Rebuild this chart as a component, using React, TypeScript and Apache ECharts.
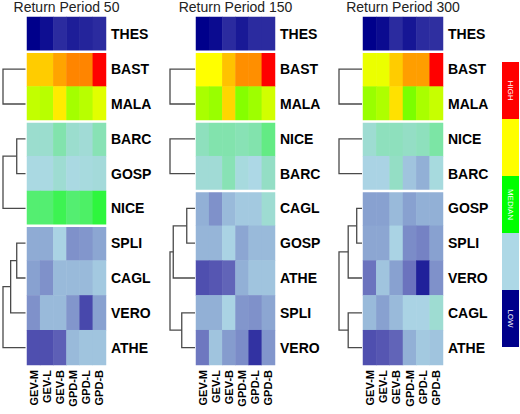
import React, { useEffect, useRef } from "react";
import * as echarts from "echarts";

const COLS = ["GEV-M", "GEV-L", "GEV-B", "GPD-M", "GPD-L", "GPD-B"];
const TITLES = ["Return Period 50", "Return Period 150", "Return Period 300"];

const ROWS_50 = ["THES", "BAST", "MALA", "BARC", "GOSP", "NICE", "SPLI", "CAGL", "VERO", "ATHE"];
const VALUES_50 = [
  [0, 2, 6, 4, 5, 6],
  [80, 80, 84, 87, 87, 100],
  [69, 68, 77, 66, 68, 72],
  [28, 28, 32, 28, 27, 31],
  [25.5, 25.5, 27.5, 25.5, 26, 26.5],
  [39, 39, 42, 39, 40, 44],
  [20.5, 20.5, 24.5, 18, 18.5, 20],
  [19.5, 18, 22, 22, 22, 23.5],
  [18, 22, 22, 18.5, 10, 19.5],
  [11, 11, 13, 22, 23, 23],
];
const GAPS_50 = [0, 2, 5];
// merges: [childA, childB, height]; a child is a row name or the index of an earlier merge
const TREE_50: [string | number, string | number, number][] = [
  ["BAST", "MALA", 1],
  ["BARC", "GOSP", 0.39],
  [1, "NICE", 1],
  ["SPLI", "CAGL", 0.39],
  [3, "VERO", 0.66],
  [4, "ATHE", 1],
];

const ROWS_150 = ["THES", "BAST", "MALA", "NICE", "BARC", "CAGL", "GOSP", "ATHE", "SPLI", "VERO"];
const VALUES_150 = [
  [0, 1.5, 6, 3.5, 6, 6],
  [75, 75, 81, 86, 86, 100],
  [66.5, 65, 79, 63, 65.5, 70.5],
  [30, 32, 32, 31, 32, 37],
  [27, 27, 31, 26, 25, 29],
  [21, 18, 22, 23.5, 23.5, 27.5],
  [21.5, 21.5, 24.5, 20, 22, 22],
  [11, 12, 13.5, 21, 23, 23],
  [21, 21, 24.5, 18.5, 18, 20],
  [15.5, 23, 19, 17.5, 7, 18.5],
];
const GAPS_150 = [0, 2, 4];
const TREE_150: [string | number, string | number, number][] = [
  ["BAST", "MALA", 1],
  ["NICE", "BARC", 1],
  ["CAGL", "GOSP", 0.33],
  [2, "ATHE", 0.87],
  ["SPLI", "VERO", 0.53],
  [3, 4, 1],
];

const ROWS_300 = ["THES", "BAST", "MALA", "NICE", "BARC", "GOSP", "SPLI", "VERO", "CAGL", "ATHE"];
const VALUES_300 = [
  [0, 1.5, 6, 3, 6, 6.5],
  [73, 73, 80, 84.5, 84.5, 100],
  [65, 67, 78, 62, 66.5, 69.5],
  [27.5, 30, 30, 29, 30, 33],
  [24.5, 24.5, 29, 23, 21, 26],
  [19.5, 19.5, 22, 19.5, 21, 21],
  [20, 20, 24.5, 17.5, 16.5, 19.5],
  [15, 23, 19.5, 15, 4.5, 18],
  [22, 19.5, 22, 24.5, 24.5, 27.5],
  [11, 12, 13.5, 21, 23.5, 23],
];
const GAPS_300 = [0, 2, 4];
const TREE_300: [string | number, string | number, number][] = [
  ["BAST", "MALA", 1],
  ["NICE", "BARC", 1],
  ["GOSP", "SPLI", 0.23],
  [2, "VERO", 0.6],
  ["CAGL", "ATHE", 0.6],
  [3, 4, 1],
];

const PALETTE = [
  "#00008B", "#5A5AB4", "#ADD8E6", "#60EC80", "#00FF00",
  "#80FF00", "#FFFF00", "#FF8000", "#FF0000",
];
const LEGEND_COLORS = ["#FF0000", "#FFFF00", "#00FF00", "#ADD8E6", "#00008B"];
const LEGEND_LABELS = ["HIGH", "", "MEDIAN", "", "LOW"];

const FONT = "'Liberation Sans', Arial, sans-serif";

const PANELS = [
  { title: TITLES[0], rows: ROWS_50, values: VALUES_50, gaps: GAPS_50, tree: TREE_50,
    hm: { left: 27, width: 79 }, dg: { left: 3, width: 22.5 } },
  { title: TITLES[1], rows: ROWS_150, values: VALUES_150, gaps: GAPS_150, tree: TREE_150,
    hm: { left: 196, width: 79 }, dg: { left: 170, width: 25 } },
  { title: TITLES[2], rows: ROWS_300, values: VALUES_300, gaps: GAPS_300, tree: TREE_300,
    hm: { left: 363, width: 80 }, dg: { left: 339, width: 23 } },
];
const TOP = 17;
const HEIGHT = 348;

function treeLinks(rows: string[], tree: [string | number, string | number, number][]) {
  const pos: number[] = [];
  const hts: number[] = [];
  const links: number[][] = [];
  const get = (c: string | number) =>
    typeof c === "string" ? [rows.indexOf(c), 0] : [pos[c], hts[c]];
  tree.forEach(([a, b, h]) => {
    const [pa, ha] = get(a);
    const [pb, hb] = get(b);
    links.push([pa, pb, ha, hb, h]);
    pos.push((pa + pb) / 2);
    hts.push(h);
  });
  return links;
}

export default function App() {
  const ref = useRef<HTMLDivElement>(null);
  useEffect(() => {
    if (!ref.current) return;
    const chart = echarts.init(ref.current, null, { renderer: "svg" });
    const grid: any[] = [];
    const xAxis: any[] = [];
    const yAxis: any[] = [];
    const series: any[] = [];
    const title: any[] = [];
    const hmIdx: number[] = [];
    PANELS.forEach((p, i) => {
      grid.push({ left: p.hm.left, top: TOP, width: p.hm.width, height: HEIGHT });
      grid.push({ left: p.dg.left, top: TOP, width: p.dg.width, height: HEIGHT });
      xAxis.push({
        type: "category", gridIndex: 2 * i, data: COLS,
        axisLine: { show: false }, axisTick: { show: false }, splitLine: { show: false },
        axisLabel: { rotate: 90, margin: 5, fontSize: 11, fontWeight: "bold", color: "#000", fontFamily: FONT, interval: 0 },
      });
      xAxis.push({ type: "value", gridIndex: 2 * i + 1, min: 0, max: 1, inverse: true, show: false });
      yAxis.push({
        type: "category", gridIndex: 2 * i, data: p.rows, inverse: true, position: "right",
        axisLine: { show: false }, axisTick: { show: false }, splitLine: { show: false },
        axisLabel: { margin: 5, fontSize: 14, fontWeight: "bold", color: "#000", fontFamily: FONT, interval: 0 },
      });
      yAxis.push({ type: "value", gridIndex: 2 * i + 1, min: -0.5, max: 9.5, inverse: true, show: false });
      title.push({
        text: p.title, left: p.hm.left + p.hm.width / 2, top: 0, textAlign: "center", padding: 0,
        textStyle: { fontSize: 14, fontWeight: "normal", color: "#222", fontFamily: FONT },
      });
      const data: number[][] = [];
      p.values.forEach((row, r) => row.forEach((v, c) => data.push([c, r, v])));
      hmIdx.push(series.length);
      series.push({
        type: "heatmap", xAxisIndex: 2 * i, yAxisIndex: 2 * i, data,
        itemStyle: { borderWidth: 0 }, emphasis: { disabled: true }, silent: true,
      });
      series.push({
        type: "custom", xAxisIndex: 2 * i, yAxisIndex: 2 * i, z: 5, silent: true,
        data: p.gaps.map((g) => [0, g]),
        renderItem: (params: any, api: any) => {
          const c = api.coord([0, api.value(1)]);
          const s = api.size([1, 1]);
          const cs = params.coordSys;
          const y = c[1] + s[1] / 2;
          return {
            type: "rect",
            shape: { x: cs.x - 1, y: y - 1.25, width: cs.width + 2, height: 2.5 },
            style: { fill: "#ffffff" },
          };
        },
      });
      series.push({
        type: "custom", xAxisIndex: 2 * i + 1, yAxisIndex: 2 * i + 1, silent: true, clip: false,
        encode: { x: 4, y: 0 },
        data: treeLinks(p.rows, p.tree),
        renderItem: (params: any, api: any) => {
          const yA = api.value(0), yB = api.value(1);
          const hA = api.value(2), hB = api.value(3), h = api.value(4);
          const pts = [
            api.coord([hA, yA]), api.coord([h, yA]), api.coord([h, yB]), api.coord([hB, yB]),
          ];
          return {
            type: "polyline",
            shape: { points: pts },
            style: { stroke: "#4a4a4a", lineWidth: 1.3, fill: "none" },
          };
        },
      });
    });

    const legTop = 62, legH = 57, legX = 502, legW = 17;
    const legendEls: any[] = [];
    LEGEND_COLORS.forEach((c, k) => {
      legendEls.push({
        type: "rect", shape: { x: legX, y: legTop + k * legH, width: legW, height: legH },
        style: { fill: c }, silent: true,
      });
      if (LEGEND_LABELS[k]) {
        legendEls.push({
          type: "text", x: legX + legW / 2, y: legTop + k * legH + legH / 2, rotation: -Math.PI / 2,
          style: {
            text: LEGEND_LABELS[k], fill: "#fff", fontSize: 8, fontFamily: FONT,
            align: "center", verticalAlign: "middle",
          },
          silent: true,
        });
      }
    });

    chart.setOption({
      animation: false,
      backgroundColor: "#fff",
      title,
      grid,
      xAxis,
      yAxis,
      visualMap: {
        type: "continuous", show: false, min: 0, max: 100, dimension: 2,
        seriesIndex: hmIdx, inRange: { color: PALETTE },
      },
      series,
      graphic: legendEls,
    });
    return () => chart.dispose();
  }, []);
  return (
    <div
      ref={ref}
      style={{ position: "fixed", left: 0, top: 0, width: 520, height: 414 }}
    />
  );
}
